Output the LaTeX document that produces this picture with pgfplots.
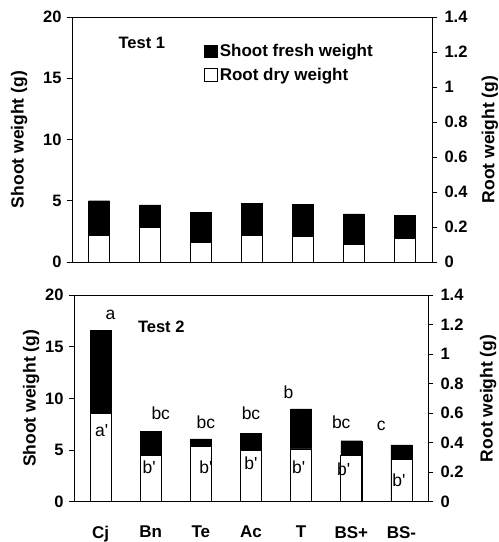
\documentclass[border=0pt]{standalone}
\usepackage{pgfplots}
\pgfplotsset{compat=1.18}
\usepackage{fontspec}
\setmainfont{Liberation Sans}
\tikzset{lett/.style={font=\fontsize{17.5}{17.5}\selectfont}}
\newcommand{\pr}{\textquotesingle}
\begin{document}
\begin{tikzpicture}[x=1pt,y=1pt]
\path[use as bounding box] (0,0) rectangle (499,542);
\pgfplotsset{
  common/.style={scale only axis, xmin=-0.53, xmax=6.53, anchor=south west,
    tick align=outside, major tick length=5pt,
    /pgf/number format/assume math mode=true,
    axis line style={line width=0.8pt},
    every tick/.style={line width=0.8pt, black},
    ticklabel style={font=\fontsize{16.5}{16.5}\selectfont\bfseries},
    label style={font=\fontsize{17.5}{17.5}\selectfont\bfseries},
  },
  leftax/.style={common, ymin=0, ymax=20, ytick={0,5,10,15,20}, ytick pos=left,
    yticklabel style={xshift=-2pt},
    ylabel={Shoot weight (g)}},
  rightax/.style={common, ymin=0, ymax=1.4, ytick={0,0.2,0.4,0.6,0.8,1,1.2,1.4},
    yticklabel style={xshift=4pt},
    axis y line*=right, axis x line=none, ylabel={Root weight (g)}},
  sqleg/.style={legend image code/.code={\draw[##1,line width=0.7pt] (0pt,-6pt) rectangle (12.5pt,6.5pt);}},
}
% ---------------- Panel 1 ----------------
\begin{axis}[leftax, at={(72pt,280pt)}, width=360pt, height=245pt, xtick=\empty,
  ylabel style={at={(axis description cs:-0.147,0.5)}, anchor=center}]
\addplot[ybar, bar width=21pt, fill=black, draw=black] coordinates {
 (0,5.0) (1,4.67) (2,4.07) (3,4.81) (4,4.72) (5,3.93) (6,3.82)};
\end{axis}
\begin{axis}[rightax, at={(72pt,280pt)}, width=360pt, height=245pt,
  ylabel style={at={(axis description cs:1.161,0.5)}, anchor=center},
  legend style={at={(0.358,0.905)}, anchor=north west, draw=none, fill=none,
    font=\fontsize{17}{17}\selectfont\bfseries, row sep=6pt,
    nodes={inner xsep=2.5pt}},
  legend cell align=left]
\addplot[ybar, bar width=21pt, fill=white, draw=black, line width=0.6pt, forget plot] coordinates {
 (0,0.154) (1,0.198) (2,0.110) (3,0.154) (4,0.144) (5,0.100) (6,0.134)};
\addlegendimage{sqleg, fill=black, draw=black}
\addlegendentry{Shoot fresh weight}
\addlegendimage{sqleg, fill=white, draw=black}
\addlegendentry{Root dry weight}
\node[font=\fontsize{16.5}{16.5}\selectfont\bfseries] at (axis cs:0.84,1.253) {Test 1};
\end{axis}
% ---------------- Panel 2 ----------------
\begin{axis}[leftax, at={(74pt,40.3pt)}, width=354pt, height=206.7pt,
  xtick={0,1,2,3,4,5,6}, xticklabels={Cj,Bn,Te,Ac,T,BS+,BS-}, xtick pos=bottom,
  xtick style={draw=none}, xticklabel style={xshift=0pt, yshift=-16pt, font=\fontsize{17}{17}\selectfont\bfseries},
  ylabel style={at={(axis description cs:-0.121,0.5)}, anchor=center}]
\addplot[ybar, bar width=21pt, fill=black, draw=black] coordinates {
 (0,16.6) (1,6.78) (2,6.07) (3,6.62) (4,8.97) (5,5.9) (6,5.49)};
\end{axis}
\begin{axis}[rightax, at={(74pt,40.3pt)}, width=354pt, height=206.7pt,
  ylabel style={at={(axis description cs:1.17,0.5)}, anchor=center}]
\addplot[ybar, bar width=21pt, fill=white, draw=black, line width=0.6pt] coordinates {
 (0,0.600) (1,0.316) (2,0.377) (3,0.346) (4,0.357) (5,0.316) (6,0.287)};
\node[font=\fontsize{16.5}{16.5}\selectfont\bfseries] at (axis cs:1.21,1.183) {Test 2};
\node[lett] at (axis cs:0.2,1.267) {a};
\node[lett] at (axis cs:1.2,0.602) {bc};
\node[lett] at (axis cs:2.1,0.539) {bc};
\node[lett] at (axis cs:3.0,0.602) {bc};
\node[lett] at (axis cs:3.75,0.742) {b};
\node[lett] at (axis cs:4.8,0.539) {bc};
\node[lett] at (axis cs:5.6,0.511) {c};
\node[lett] at (axis cs:0.02,0.483) {a\pr};
\node[lett] at (axis cs:0.97,0.231) {b\pr};
\node[lett] at (axis cs:2.1,0.231) {b\pr};
\node[lett] at (axis cs:3.0,0.263) {b\pr};
\node[lett] at (axis cs:3.95,0.231) {b\pr};
\node[lett] at (axis cs:4.85,0.217) {b\pr};
\node[lett] at (axis cs:5.95,0.147) {b\pr};
\end{axis}
\end{tikzpicture}
\end{document}
